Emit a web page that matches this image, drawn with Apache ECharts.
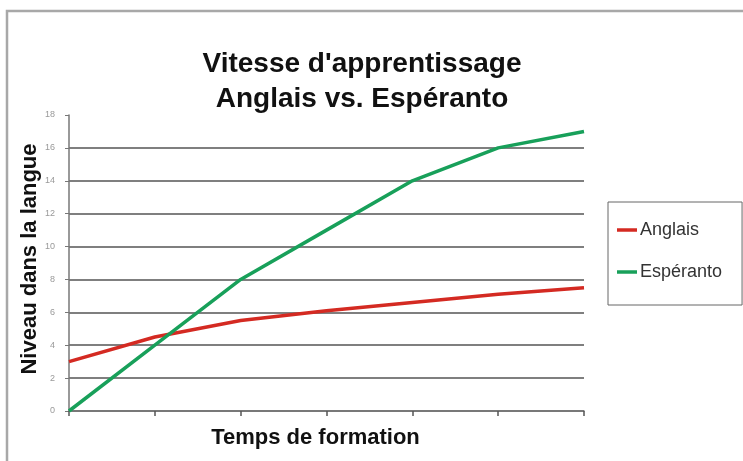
<!DOCTYPE html>
<html>
<head>
<meta charset="utf-8">
<script src="https://cdn.jsdelivr.net/npm/echarts@6/dist/echarts.min.js"></script>
<style>
html,body{margin:0;padding:0;background:#fff;}
#chart{width:743px;height:461px;}
</style>
</head>
<body>
<div id="chart"></div>
<script>
const categories = ['1', '2', '3', '4', '5', '6', '7'];
const anglais = [3, 4.5, 5.5, 6.1, 6.6, 7.1, 7.5];
const esperanto = [0, 4, 8, 11, 14, 16, 17];
const yTicks = { min: 0, max: 18, interval: 2 };

const chart = echarts.init(document.getElementById('chart'));
chart.setOption({
  backgroundColor: '#fff',
  animation: false,
  graphic: [{
    type: 'rect',
    shape: { x: 7, y: 11, width: 760, height: 480 },
    style: { fill: 'none', stroke: '#a8a8a8', lineWidth: 2.5 },
    z: -1
  }],
  title: {
    text: "Vitesse d'apprentissage\nAnglais vs. Espéranto",
    left: 357,
    textAlign: 'center',
    top: 42,
    textStyle: {
      fontFamily: 'Liberation Sans, Arial',
      fontWeight: 'bold',
      fontSize: 28,
      lineHeight: 35,
      color: '#111'
    }
  },
  legend: {
    orient: 'vertical',
    left: 608,
    top: 202,
    padding: [19, 20, 24, 9],
    itemGap: 24,
    itemWidth: 20,
    itemHeight: 3.5,
    borderColor: '#666',
    borderWidth: 1,
    icon: 'rect',
    textStyle: { fontFamily: 'Liberation Sans, Arial', fontSize: 18, color: '#333', padding: [0, 0, 0, -2] },
    data: ['Anglais', 'Espéranto']
  },
  grid: { left: 69, right: 159, top: 115, bottom: 50, containLabel: false },
  xAxis: {
    type: 'category',
    data: categories,
    boundaryGap: false,
    name: 'Temps de formation',
    nameLocation: 'middle',
    nameGap: 16,
    nameTextStyle: { fontFamily: 'Liberation Sans, Arial', fontWeight: 'bold', fontSize: 22, color: '#111', padding: [0, 22, 0, 0] },
    axisLine: { lineStyle: { color: '#777', width: 1.5 } },
    axisTick: { show: true, length: 5, lineStyle: { color: '#555', width: 1.5 } },
    axisLabel: { show: false },
    splitLine: { show: false }
  },
  yAxis: {
    type: 'value',
    min: yTicks.min,
    max: yTicks.max,
    interval: yTicks.interval,
    name: 'Niveau dans la langue',
    nameLocation: 'middle',
    nameGap: 28,
    nameMoveOverlap: false,
    nameRotate: 90,
    nameTextStyle: { fontFamily: 'Liberation Sans, Arial', fontWeight: 'bold', fontSize: 22, color: '#111', padding: [0, 0, 0, 8] },
    axisLine: { show: true, lineStyle: { color: '#777', width: 1.5 } },
    axisTick: { show: true, length: 4, lineStyle: { color: '#777' } },
    axisLabel: { fontFamily: 'Liberation Sans, Arial', fontSize: 9, color: '#999', margin: 14 },
    splitLine: { show: true, lineStyle: { color: '#555', width: 1.5 }, showMaxLine: false }
  },
  series: [
    {
      name: 'Anglais', type: 'line', data: anglais,
      showSymbol: false, symbol: 'none',
      color: '#d42a22',
      lineStyle: { width: 3.5, color: '#d42a22' }
    },
    {
      name: 'Espéranto', type: 'line', data: esperanto,
      showSymbol: false, symbol: 'none',
      color: '#18a05a',
      lineStyle: { width: 3.5, color: '#18a05a' }
    }
  ]
});
</script>
</body>
</html>
